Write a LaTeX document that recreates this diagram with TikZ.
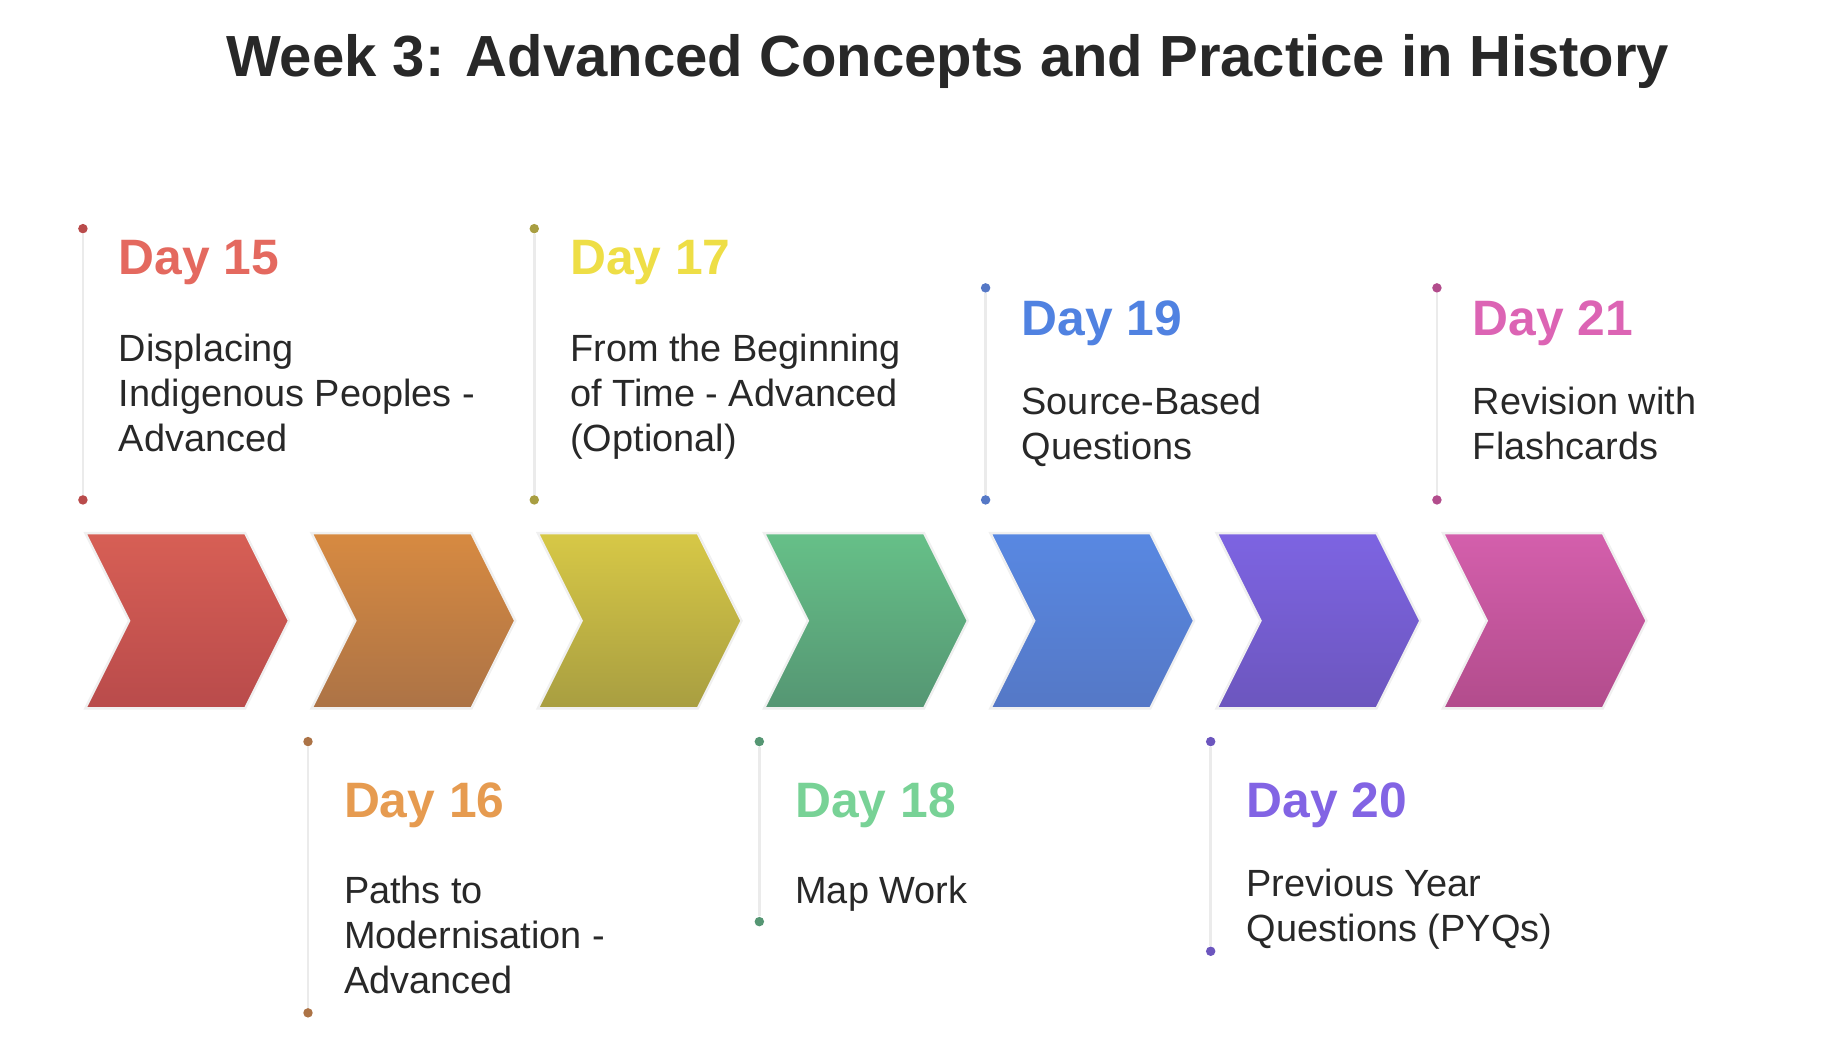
\documentclass[tikz,border=0pt]{standalone}
\usepackage{fontspec}
\setmainfont{Liberation Sans}
\usetikzlibrary{positioning}

\definecolor{RedTop}{RGB}{215,95,85}      \definecolor{RedBot}{RGB}{185,75,75}
\definecolor{OraTop}{RGB}{215,138,65}     \definecolor{OraBot}{RGB}{172,115,70}
\definecolor{YelTop}{RGB}{215,200,70}     \definecolor{YelBot}{RGB}{168,158,65}
\definecolor{GreTop}{RGB}{102,192,136}    \definecolor{GreBot}{RGB}{85,150,115}
\definecolor{BluTop}{RGB}{88,136,226}     \definecolor{BluBot}{RGB}{85,120,198}
\definecolor{PurTop}{RGB}{125,100,226}    \definecolor{PurBot}{RGB}{108,86,190}
\definecolor{PinTop}{RGB}{212,95,172}     \definecolor{PinBot}{RGB}{178,76,140}
\definecolor{RedTxt}{RGB}{228,105,95}
\definecolor{OraTxt}{RGB}{230,155,80}
\definecolor{YelTxt}{RGB}{238,222,70}
\definecolor{GreTxt}{RGB}{120,210,150}
\definecolor{BluTxt}{RGB}{80,130,225}
\definecolor{PurTxt}{RGB}{130,100,228}
\definecolor{PinTxt}{RGB}{220,100,180}
\definecolor{InkGrey}{RGB}{40,40,40}

\tikzset{
  daylabel/.style={anchor=base west, inner sep=0pt, font=\bfseries\fontsize{21}{25}\selectfont},
  daytext/.style={anchor=base west, inner sep=0pt, align=left, text=InkGrey,
                  font=\fontsize{16}{19}\selectfont},
  stem/.style={draw=black!8, line width=1.2pt},
  pin/.style={circle, inner sep=0pt, minimum size=4pt}
}

\begin{document}
\begin{tikzpicture}[x=0.5pt, y=-0.5pt]

 \useasboundingbox (0,0) rectangle (1560,891);

 % Title
 \node[font=\bfseries\fontsize{24.5}{30}\selectfont, text=InkGrey] (title) at (800,52) {Week 3: Advanced Concepts and Practice in History};

 % Chevrons
 \foreach \i/\top/\bot in {0/RedTop/RedBot, 1/OraTop/OraBot, 2/YelTop/YelBot, 3/GreTop/GreBot,
                           4/BluTop/BluBot, 5/PurTop/PurBot, 6/PinTop/PinBot}{
   \pgfmathsetmacro{\xa}{72+191*\i}
   \shade[top color=\top, bottom color=\bot, draw=black!6, line width=1pt]
     (\xa,450) -- (\xa+135,450) -- (\xa+172,524) -- (\xa+135,598)
     -- (\xa,598) -- (\xa+37,524) -- cycle;
 }

 % Stems and pins (top row)
 \node[pin, fill=RedBot] (p15a) at (70,193) {};  \node[pin, fill=RedBot] (p15b) at (70,422) {};
 \node[pin, fill=YelBot] (p17a) at (451,193) {}; \node[pin, fill=YelBot] (p17b) at (451,422) {};
 \node[pin, fill=BluBot] (p19a) at (832,243) {}; \node[pin, fill=BluBot] (p19b) at (832,422) {};
 \node[pin, fill=PinBot] (p21a) at (1213,243) {};\node[pin, fill=PinBot] (p21b) at (1213,422) {};
 % Stems and pins (bottom row)
 \node[pin, fill=OraBot] (p16a) at (260,626) {}; \node[pin, fill=OraBot] (p16b) at (260,855) {};
 \node[pin, fill=GreBot] (p18a) at (641,626) {}; \node[pin, fill=GreBot] (p18b) at (641,778) {};
 \node[pin, fill=PurBot] (p20a) at (1022,626) {};\node[pin, fill=PurBot] (p20b) at (1022,803) {};

 \foreach \d in {15,16,17,18,19,20,21}
   \draw[stem] (p\d a) -- (p\d b);

 % Day labels
 \node[daylabel, text=RedTxt] (d15) at (100,232)  {Day 15};
 \node[daylabel, text=OraTxt] (d16) at (290,690)  {Day 16};
 \node[daylabel, text=YelTxt] (d17) at (481,232)  {Day 17};
 \node[daylabel, text=GreTxt] (d18) at (671,690)  {Day 18};
 \node[daylabel, text=BluTxt] (d19) at (862,283)  {Day 19};
 \node[daylabel, text=PurTxt] (d20) at (1052,690) {Day 20};
 \node[daylabel, text=PinTxt] (d21) at (1243,283) {Day 21};

 % Descriptions (placed at the baseline of their last line)
 \node[daytext] (t15) at (100,381)  {Displacing\\Indigenous Peoples -\\Advanced};
 \node[daytext] (t16) at (290,839)  {Paths to\\Modernisation -\\Advanced};
 \node[daytext] (t17) at (481,381)  {From the Beginning\\of Time - Advanced\\(Optional)};
 \node[daytext] (t18) at (671,763)  {Map Work};
 \node[daytext] (t19) at (862,388)  {Source-Based\\Questions};
 \node[daytext] (t20) at (1052,795) {Previous Year\\Questions (PYQs)};
 \node[daytext] (t21) at (1243,388) {Revision with\\Flashcards};

\end{tikzpicture}
\end{document}
